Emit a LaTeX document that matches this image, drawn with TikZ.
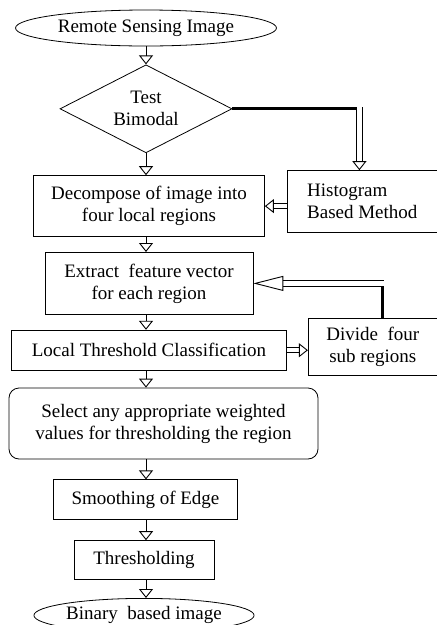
\documentclass[tikz,border=0pt]{standalone}
\usepackage{fontspec}
\setmainfont{Liberation Serif}
\usetikzlibrary{shapes.geometric,positioning,arrows.meta}

\tikzset{
  block/.style={rectangle, draw=black, line width=0.8pt, inner sep=2pt, align=center},
  term/.style={ellipse, draw=black, line width=0.8pt, inner sep=0pt},
  dblarrow/.style={double, double distance=4.5pt, line width=0.9pt, -{Triangle[open, length=9pt, width=14pt]}},
  longarrow/.style={double, double distance=4.5pt, line width=0.9pt, -{Triangle[open, length=30pt, width=15pt]}},
  thickline/.style={line width=2.8pt},
}

\begin{document}
\begin{tikzpicture}[font=\fontsize{19}{22}\selectfont]
  \useasboundingbox (-146pt,28pt) rectangle (291pt,-597pt);

  \node[term, minimum width=261pt, minimum height=36pt, name=start] at (0,0) {Remote Sensing Image};
  \node[diamond, aspect=1.95, draw=black, line width=0.8pt, inner sep=0pt, align=center,
        minimum width=172pt, minimum height=88pt, name=test, below=18pt of start] {Test\\Bimodal};
  \node[block, minimum width=231pt, minimum height=61pt, name=decomp, below=22pt of test, xshift=3pt] {Decompose of image into\\four local regions};
  \node[block, minimum width=208pt, minimum height=62pt, name=extract, below=15pt of decomp] {Extract\ \ feature vector\\for each region};
  \node[block, minimum width=275pt, minimum height=40pt, name=local, below=15pt of extract] {Local Threshold Classification};
  \node[block, rounded corners=10pt, minimum width=309pt, minimum height=71pt, name=select,
        below=17pt of local, xshift=14.5pt] {Select any appropriate weighted\\values for thresholding the region};
  \node[block, minimum width=184pt, minimum height=40pt, name=smooth, below=20pt of select, xshift=-18pt] {Smoothing of Edge};
  \node[block, minimum width=140pt, minimum height=39pt, name=thresh, below=20pt of smooth, xshift=-1.5pt] {Thresholding};
  \node[term, minimum width=199pt, minimum height=34pt, name=binary, below=18pt of thresh] {Binary\ \ based image};

  \node[block, align=left, minimum width=150pt, minimum height=62pt, name=hist,
        right=22pt of decomp, yshift=4.5pt] {Histogram\\Based Method};
  \node[block, minimum width=129pt, minimum height=57pt, name=divide,
        right=21pt of local, yshift=3.5pt] {Divide\ \ four\\sub regions};

  % main column
  \path[dblarrow]
     (start) edge (test)
     (test.south) edge (test.south |- decomp.north)
     (test.south |- decomp.south) edge (test.south |- extract.north)
     (test.south |- extract.south) edge (test.south |- local.north)
     (test.south |- local.south) edge (test.south |- select.north)
     (test.south |- select.south) edge (test.south |- smooth.north)
     (test.south |- smooth.south) edge (test.south |- thresh.north)
     (test.south |- thresh.south) edge (test.south |- binary.north);

  % side branches
  \coordinate[xshift=127pt] (tb) at (test.east);
  \coordinate[xshift=8pt] (fb) at (extract.east -| divide.north);
  \draw[thickline] (test.east) -- ([xshift=3.1pt]tb);
  \draw[dblarrow] ([yshift=1.4pt]tb) -- (tb |- hist.north);
  \draw[dblarrow] (decomp.east -| hist.west) -- (decomp.east);
  \draw[thickline] ([xshift=1.7pt]divide.north -| fb) -- ([xshift=1.7pt, yshift=-3pt]fb);
  \draw[longarrow] ([xshift=3.1pt]fb) -- (extract.east);
  \draw[dblarrow] (local.east) -- (local.east -| divide.west);
\end{tikzpicture}
\end{document}
